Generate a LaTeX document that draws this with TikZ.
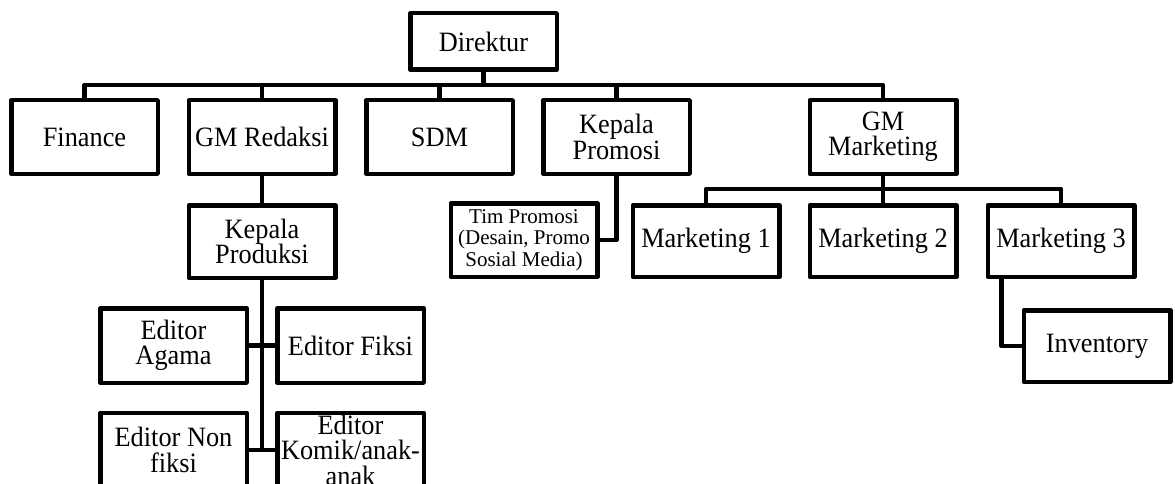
\documentclass[tikz,border=0pt]{standalone}
\usepackage{fontspec}
\setmainfont{Liberation Serif}[FakeStretch=0.94]
\newfontfamily\smallfont{Liberation Serif}
\begin{document}
\begin{tikzpicture}[x=1pt,y=-1pt,
  box/.style={draw, line width=4.5pt, line join=round, minimum width=146.5pt,
    minimum height=73.5pt, inner sep=0pt, align=center,
    font=\fontsize{28}{25.5}\selectfont},
  smallbox/.style={box, font=\smallfont\fontsize{21}{21.5}\selectfont},
  conn/.style={line width=4.5pt, line join=round}]
\useasboundingbox (0,0) rectangle (1175,484);
\clip (0,0) rectangle (1175,484);
% nodes
\node[box, minimum height=56.5pt] (dir) at (483.5,41.5) {Direktur};
\node[box] (fin) at (84.5,137) {Finance};
\node[box] (gmr) at (262,137) {GM Redaksi};
\node[box] (sdm) at (439.5,137) {SDM};
\node[box] (kprom) at (616.5,137) {Kepala\\Promosi};
\node[box] (gmm) at (883,137) {GM\\Marketing};
\node[box, minimum height=72.5pt] (kprod) at (262,241.5) {Kepala\\Produksi};
\node[smallbox] (tim) at (524,240) {Tim Promosi\\(Desain, Promo\\Sosial Media)};
\node[box, minimum height=71.5pt] (m1) at (706,241) {Marketing 1};
\node[box, minimum height=71.5pt] (m2) at (883,241) {Marketing 2};
\node[box, minimum height=71.5pt] (m3) at (1061,241) {Marketing 3};
\node[box, minimum height=74.5pt] (agama) at (173.5,345.5) {Editor\\Agama};
\node[box, minimum height=74.5pt] (fiksi) at (350.5,345.5) {Editor Fiksi};
\node[box, minimum height=74.5pt] (nonfiksi) at (173.5,450) {Editor Non\\fiksi};
\node[box, minimum height=74.5pt] (komik) at (350.5,450) {Editor\\Komik/anak-\\anak};
\node[box, minimum height=71.5pt] (inv) at (1097,346) {Inventory};
% connectors
\coordinate (busA) at (483.5,85);
\coordinate (busB) at (883,189);
\foreach \c in {fin,gmr,sdm,kprom,gmm}
  \draw[conn] (dir.south) -- (dir.south |- busA) -| (\c.north);
\draw[conn] (gmr.south) -- (kprod.north);
\draw[conn] (kprod.south) -- (kprod.south |- nonfiksi.east);
\draw[conn] (agama.east) -- (fiksi.west);
\draw[conn] (nonfiksi.east) -- (komik.west);
\draw[conn] (kprom.south) |- (tim.east);
\foreach \c in {m1,m2,m3}
  \draw[conn] (gmm.south) -- (gmm.south |- busB) -| (\c.north);
\draw[conn] ([xshift=16pt]m3.south west) |- (inv.west);
\end{tikzpicture}
\end{document}
